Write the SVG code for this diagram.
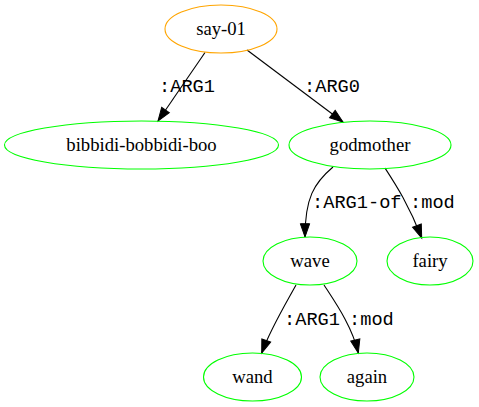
<svg xmlns="http://www.w3.org/2000/svg" width="479" height="407" viewBox="0 0 479 407">
  <defs>
    <marker id="arrow" markerUnits="userSpaceOnUse" markerWidth="16" markerHeight="12" refX="13.3" refY="4.67" orient="auto" overflow="visible">
      <path d="M0,0 L13.3,4.67 L0,9.33 Z" fill="#000" stroke="#000" stroke-width="1"/>
    </marker>
  </defs>
  <style>
    .node ellipse { fill: none; stroke-width: 1.1; }
    .root ellipse { stroke: #ffa500; }
    .leaf ellipse { stroke: #00ff00; }
    .node text { font-family: "Liberation Serif", "Times New Roman", serif; font-size: 18.67px; text-anchor: middle; fill: #000; }
    .edges path { fill: none; stroke: #000; stroke-width: 1.1; marker-end: url(#arrow); }
    .edges text { font-family: "Liberation Mono", "Courier New", monospace; font-size: 18.67px; fill: #000; }
  </style>
  <rect width="479" height="407" fill="#fff"/>

  <g id="edges" class="edges">
    <path d="M205,52.5 L158,121"/>
    <text x="159" y="92">:ARG1</text>
    <path d="M247,50 L343,122"/>
    <text x="304" y="92">:ARG0</text>
    <path d="M333,167 C314,183 305,198 305,237"/>
    <text x="312" y="208">:ARG1-of</text>
    <path d="M385,168 C396,185 409,205 421.7,238"/>
    <text x="410" y="208">:mod</text>
    <path d="M296,285 C285,305 270,330 261.7,353"/>
    <text x="284" y="325">:ARG1</text>
    <path d="M324,285 C335,302 352,326 358.3,353"/>
    <text x="349" y="325">:mod</text>
  </g>

  <g id="say-01" class="node root">
    <ellipse cx="221" cy="29" rx="56" ry="24"/>
    <text x="221" y="35">say-01</text>
  </g>
  <g id="bibbidi-bobbidi-boo" class="node leaf">
    <ellipse cx="141.5" cy="145" rx="137" ry="24"/>
    <text x="141.5" y="151">bibbidi-bobbidi-boo</text>
  </g>
  <g id="godmother" class="node leaf">
    <ellipse cx="370" cy="145" rx="81" ry="24"/>
    <text x="370" y="151">godmother</text>
  </g>
  <g id="wave" class="node leaf">
    <ellipse cx="310" cy="261" rx="47" ry="24"/>
    <text x="310" y="267">wave</text>
  </g>
  <g id="fairy" class="node leaf">
    <ellipse cx="430" cy="261" rx="43" ry="24"/>
    <text x="430" y="267">fairy</text>
  </g>
  <g id="wand" class="node leaf">
    <ellipse cx="252.5" cy="377" rx="49" ry="24"/>
    <text x="252.5" y="383">wand</text>
  </g>
  <g id="again" class="node leaf">
    <ellipse cx="367" cy="377" rx="47" ry="24"/>
    <text x="367" y="383">again</text>
  </g>
</svg>
